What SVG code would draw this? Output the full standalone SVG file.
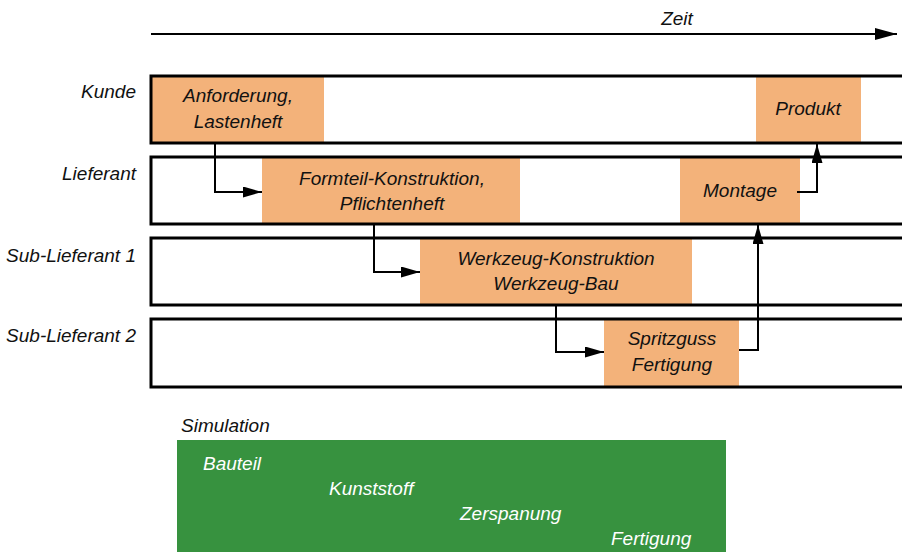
<svg xmlns="http://www.w3.org/2000/svg" width="902" height="552" viewBox="0 0 902 552">
<style>
text{font-family:"Liberation Sans",Arial,sans-serif;font-style:italic;font-size:19px;fill:#111}
.lbl{text-anchor:end}
.c{text-anchor:middle}
.w{fill:#fff}
.lane{fill:none;stroke:#000;stroke-width:3}
.box{fill:#F3B27A}
.con{fill:none;stroke:#000;stroke-width:2}
</style>
<defs>
<marker id="ah" markerUnits="userSpaceOnUse" markerWidth="19" markerHeight="11" refX="19" refY="5.5" orient="auto"><path d="M0,0 L19,5.5 L0,11 z" fill="#000"/></marker>
<marker id="ahb" markerUnits="userSpaceOnUse" markerWidth="22" markerHeight="12" refX="22" refY="6" orient="auto"><path d="M0,0 L22,6 L0,12 z" fill="#000"/></marker>
</defs>
<rect width="902" height="552" fill="#fff"/>
<g id="zeit">
<text class="c" x="677" y="25">Zeit</text>
<line x1="151" y1="34" x2="897" y2="34" stroke="#000" stroke-width="2" marker-end="url(#ahb)"/>
</g>
<g id="lane-kunde">
<rect class="box" x="152" y="76" width="172" height="67"/>
<rect class="box" x="756" y="76" width="105" height="67"/>
<rect class="lane" x="151" y="76" width="760" height="67"/>
<text class="lbl" x="136" y="98">Kunde</text>
</g>
<g id="lane-lieferant">
<rect class="box" x="262" y="157" width="258" height="67"/>
<rect class="box" x="680" y="157" width="120" height="67"/>
<rect class="lane" x="151" y="157" width="760" height="67"/>
<text class="lbl" x="136" y="180">Lieferant</text>
</g>
<g id="lane-sub1">
<rect class="box" x="420" y="238" width="272" height="67"/>
<rect class="lane" x="151" y="238" width="760" height="67"/>
<text class="lbl" x="136" y="262">Sub-Lieferant 1</text>
</g>
<g id="lane-sub2">
<rect class="box" x="604" y="319" width="135" height="68"/>
<rect class="lane" x="151" y="319" width="760" height="68"/>
<text class="lbl" x="136" y="342">Sub-Lieferant 2</text>
</g>
<g id="anforderung"><text class="c" x="238" y="102">Anforderung,</text><text class="c" x="238" y="128">Lastenheft</text></g>
<g id="produkt"><text class="c" x="808" y="115">Produkt</text></g>
<g id="formteil"><text class="c" x="392" y="185">Formteil-Konstruktion,</text><text class="c" x="392" y="210">Pflichtenheft</text></g>
<g id="montage"><text class="c" x="740" y="197">Montage</text></g>
<g id="werkzeug"><text class="c" x="556" y="265">Werkzeug-Konstruktion</text><text class="c" x="556" y="290">Werkzeug-Bau</text></g>
<g id="spritzguss"><text class="c" x="672" y="345">Spritzguss</text><text class="c" x="672" y="371">Fertigung</text></g>
<g id="connectors">
<path class="con" d="M215,143 V192 H262" marker-end="url(#ah)"/>
<path class="con" d="M374,224 V272 H420" marker-end="url(#ah)"/>
<path class="con" d="M556,305 V352 H604" marker-end="url(#ah)"/>
<path class="con" d="M739,350 H758 V225" marker-end="url(#ah)"/>
<path class="con" d="M797,192 H817 V144" marker-end="url(#ah)"/>
</g>
<g id="simulation">
<text x="181" y="432">Simulation</text>
<rect x="177" y="440" width="549" height="112" fill="#37923F"/>
<text class="w" x="203" y="470">Bauteil</text>
<text class="w" x="329" y="495">Kunststoff</text>
<text class="w" x="460" y="520">Zerspanung</text>
<text class="w" x="611" y="545">Fertigung</text>
</g>
</svg>
